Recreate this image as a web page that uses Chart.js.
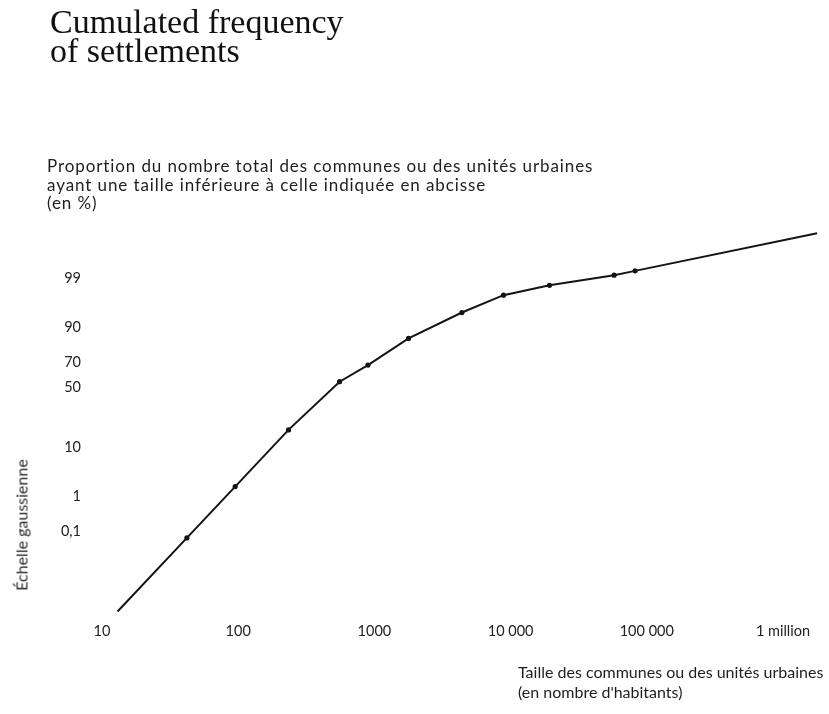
<!DOCTYPE html>
<html>
<head>
<meta charset="utf-8">
<script src="https://cdn.jsdelivr.net/npm/chart.js@4.4.0/dist/chart.umd.min.js"></script>
<style>
  html, body { margin: 0; padding: 0; background: #fff; }
  #wrap { position: relative; width: 829px; height: 714px; overflow: hidden; }
  #wrap canvas { position: absolute; left: 0; top: 0; }
  .txt { position: absolute; font-family: Lato, sans-serif; color: #1e1e1e; white-space: nowrap; }
  #title { left: 50px; top: 7px; font-family: "Liberation Serif", serif; font-size: 34px; line-height: 29px; color: #111; }
  #yDesc { left: 47px; top: 157px; font-size: 17px; line-height: 18.5px; letter-spacing: 0.9px; }
  #yTitle { left: 21px; top: 525px; font-size: 16px; color: #2a2a2a; transform: translate(-50%, -50%) rotate(-90deg); }
  #xDesc { left: 518px; top: 662px; font-size: 16px; line-height: 20px; }
</style>
</head>
<body>
<div id="wrap">
  <canvas id="myChart" width="829" height="714"></canvas>
  <div id="title" class="txt">Cumulated frequency<br>of settlements</div>
  <div id="yDesc" class="txt">Proportion du nombre total des communes ou des unités urbaines<br>ayant une taille inférieure à celle indiquée en abcisse<br>(en %)</div>
  <div id="yTitle" class="txt">Échelle gaussienne</div>
  <div id="xDesc" class="txt">Taille des communes ou des unités urbaines<br>(en nombre d'habitants)</div>
</div>
<script>
// Taille des communes (habitants) et fréquence cumulée (%)
const populations = [13, 42, 95, 234, 555, 897, 1780, 4390, 8870, 19300, 57500, 82000, 1780000];
const cumulatedPercent = [0.0000824, 0.064, 1.68, 18, 54.5, 68, 85, 94.4, 97.5, 98.5, 99.15, 99.34, 99.9486];

// Axes labels
const xTickValues = [10, 100, 1000, 10000, 100000, 1000000];
const xTickLabels = ['10', '100', '1000', '10 000', '100 000', '1 million'];
const yTickPercents = [0.1, 1, 10, 50, 70, 90, 99];
const yTickLabels = ['0,1', '1', '10', '50', '70', '90', '99'];

// Gaussian scale: percent -> normal quantile (Acklam approximation)
function probit(p) {
    const a = [-39.69683028665376, 220.9460984245205, -275.9285104469687, 138.3577518672690, -30.66479806614716, 2.506628277459239];
    const b = [-54.47609879822406, 161.5858368580409, -155.6989798598866, 66.80131188771972, -13.28068155288572];
    const c = [-0.007784894002430293, -0.3223964580411365, -2.400758277161838, -2.549732539343734, 4.374664141464968, 2.938163982698783];
    const d = [0.007784695709041462, 0.3224671290700398, 2.445134137142996, 3.754408661907416];
    const plow = 0.02425;
    let q, r;
    if (p < plow) {
        q = Math.sqrt(-2 * Math.log(p));
        return (((((c[0] * q + c[1]) * q + c[2]) * q + c[3]) * q + c[4]) * q + c[5]) /
            ((((d[0] * q + d[1]) * q + d[2]) * q + d[3]) * q + 1);
    }
    if (p <= 1 - plow) {
        q = p - 0.5;
        r = q * q;
        return (((((a[0] * r + a[1]) * r + a[2]) * r + a[3]) * r + a[4]) * r + a[5]) * q /
            (((((b[0] * r + b[1]) * r + b[2]) * r + b[3]) * r + b[4]) * r + 1);
    }
    q = Math.sqrt(-2 * Math.log(1 - p));
    return -(((((c[0] * q + c[1]) * q + c[2]) * q + c[3]) * q + c[4]) * q + c[5]) /
        ((((d[0] * q + d[1]) * q + d[2]) * q + d[3]) * q + 1);
}

const tickFont = { family: 'Lato', size: 14.5 };
const lastIndex = populations.length - 1;

const ctx = document.getElementById('myChart').getContext('2d');

const myChart = new Chart(ctx, {
    type: 'line',
    data: {
        datasets: [{
            data: populations.map((v, i) => ({ x: v, y: probit(cumulatedPercent[i] / 100) })),
            borderColor: '#141414',
            borderWidth: 2,
            tension: 0,
            fill: false,
            pointRadius: (c) => (c.dataIndex === 0 || c.dataIndex === lastIndex) ? 0 : 2.6,
            pointBackgroundColor: '#141414',
            pointBorderWidth: 0,
        }],
    },
    options: {
        responsive: false,
        animation: false,
        layout: { padding: { left: 0, right: 5, top: 223, bottom: 66 } },
        plugins: {
            legend: { display: false },
            tooltip: { enabled: false },
        },
        scales: {
            x: {
                type: 'logarithmic',
                min: 10,
                max: 2000000,
                grid: { display: false, drawTicks: false },
                border: { display: false },
                afterBuildTicks: (s) => { s.ticks = xTickValues.map(v => ({ value: v })); },
                afterFit: (s) => { s.height = 30; },
                ticks: {
                    autoSkip: false,
                    maxRotation: 0,
                    padding: 5,
                    color: '#222',
                    font: tickFont,
                    callback: (value, index) => xTickLabels[index],
                },
            },
            y: {
                type: 'linear',
                min: -4.93,
                max: 3.5,
                grid: { display: false, drawTicks: false },
                border: { display: false },
                afterBuildTicks: (s) => { s.ticks = yTickPercents.map(p => ({ value: probit(p / 100) })); },
                afterFit: (s) => { s.width = 102; },
                ticks: {
                    autoSkip: false,
                    padding: 21,
                    color: '#222',
                    font: tickFont,
                    callback: (value, index) => yTickLabels[index],
                },
            },
        },
    },
});
</script>
</body>
</html>
